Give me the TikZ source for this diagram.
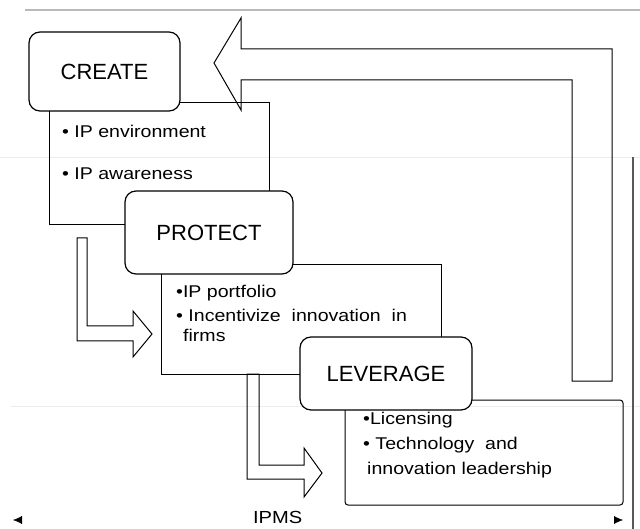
\documentclass[tikz,border=0pt]{standalone}
\usepackage{fontspec}
\setmainfont{Liberation Sans}
\newfontfamily\listfont[FakeStretch=1.15]{Liberation Sans}
\usetikzlibrary{arrows.meta}

\begin{document}
\begin{tikzpicture}[x=1pt, y=-1pt,
    stage/.style={draw, line width=1.2pt, rounded corners=11pt, fill=white,
                  font=\fontsize{22}{24}\selectfont},
    listbox/.style={draw, line width=1pt},
    bullets/.style={anchor=north west, inner sep=0pt, align=left},
    blockarrow/.style={draw, line width=1pt, line join=miter}]
        \useasboundingbox (0,0) rectangle (640,529);

        \draw [gray!55, line width=1.2pt] (25,10)  -- (640,10);
        \draw [gray!15]                   (0,157)  -- (640,157);
        \draw [gray!15]                   (11,406) -- (640,406);
        \draw [black!65, line width=1.5pt] (633,157) -- (633,529);

        % text frames behind the stages
        \node [listbox, minimum width=220pt, minimum height=122pt] (createtxt)  at (159,164)   {};
        \node [listbox, minimum width=280pt, minimum height=109pt] (protecttxt) at (301,319.5) {};
        \node [listbox, minimum width=278pt, minimum height=105pt, rounded corners=3pt] (levertxt) at (484,452.5) {};

        % feedback arrow
        \draw [blockarrow] (214,63) -- (241,18) -- (241,49) -- (612,49) -- (612,381)
                           -- (572,381) -- (572,80) -- (241,80) -- (241,110) -- cycle;

        % bent arrows
        \draw [blockarrow] (77,238) -- (87,238) -- (87,326) -- (133,326) -- (133,311)
                           -- (152,334) -- (133,357) -- (133,341) -- (77,341) -- cycle;
        \draw [blockarrow] (247,374) -- (259,374) -- (259,465) -- (304,465) -- (304,448)
                           -- (322,473) -- (304,497) -- (304,479) -- (247,479) -- cycle;

        \node [stage, minimum width=151pt, minimum height=79pt] (create)   at (104.5,71.5)  {CREATE};
        \node [stage, minimum width=168pt, minimum height=83pt] (protect)  at (209,232.5)   {PROTECT};
        \node [stage, minimum width=172pt, minimum height=73pt] (leverage) at (386,373.5)   {LEVERAGE};

        \node [bullets, font=\listfont\fontsize{17}{20}\selectfont] (createlist) at (62,125)
              {• IP environment\\[22pt]• IP awareness};
        \node [bullets, font=\listfont\fontsize{17}{20}\selectfont] (protectlist) at (176,285)
              {•IP portfolio\\[4pt]• Incentivize\ \ innovation\ \ in\\\hspace{7pt}firms};
        \node [bullets, font=\listfont\fontsize{17}{25}\selectfont] (leverlist) at (363,412)
              {•Licensing\\• Technology\ \ and\\\hspace{4pt}innovation leadership};

        \coordinate (scopeL) at (13,520);
        \coordinate (scopeR) at (623,520);
        \draw [draw=white, {Latex[color=black,length=9pt,width=8pt]}-{Latex[color=black,length=9pt,width=8pt]}]
              (scopeL) -- node [pos=0.434, yshift=3pt, font=\listfont\fontsize{17.5}{20}\selectfont] (ipms) {IPMS} (scopeR);
\end{tikzpicture}
\end{document}
